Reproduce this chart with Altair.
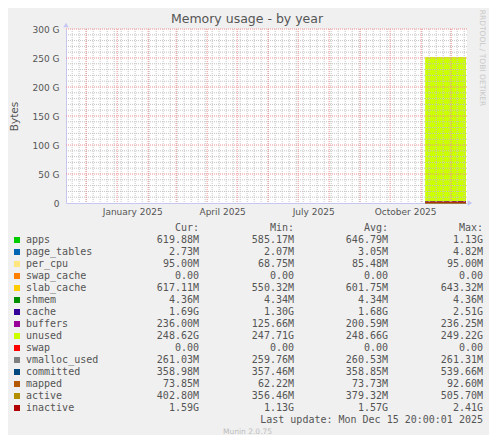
import altair as alt
import pandas as pd

# ---------------- text ----------------
TITLE = "Memory usage - by year"
Y_TITLE = "Bytes"
WATERMARK = "RRDTOOL / TOBI OETIKER"
LAST_UPDATE = "Last update: Mon Dec 15 20:00:01 2025"
FOOTER = "Munin 2.0.75"
HEADERS = ["Cur:", "Min:", "Avg:", "Max:"]

# ---------------- series ----------------
SERIES = ["apps", "page_tables", "per_cpu", "swap_cache", "slab_cache", "shmem",
          "cache", "buffers", "unused", "swap", "vmalloc_used", "committed",
          "mapped", "active", "inactive"]
COLORS = ["#00CC00", "#0066B3", "#FFE680", "#FF8000", "#FFCC00", "#008F00",
          "#330099", "#990099", "#CCFF00", "#FF0000", "#808080", "#00487D",
          "#B35A00", "#B38F00", "#B30000"]
STACKED = SERIES[:10]
LINES = SERIES[10:]

# legend statistics (as printed)
CUR = ["619.88M", "2.73M", "95.00M", "0.00", "617.11M", "4.36M", "1.69G", "236.00M",
       "248.62G", "0.00", "261.03M", "358.98M", "73.85M", "402.80M", "1.59G"]
MIN = ["585.17M", "2.07M", "68.75M", "0.00", "550.32M", "4.34M", "1.30G", "125.66M",
       "247.71G", "0.00", "259.76M", "357.46M", "62.22M", "356.46M", "1.13G"]
AVG = ["646.79M", "3.05M", "85.48M", "0.00", "601.75M", "4.34M", "1.68G", "200.59M",
       "248.66G", "0.00", "260.53M", "358.85M", "73.73M", "379.32M", "1.57G"]
MAX = ["1.13G", "4.82M", "95.00M", "0.00", "643.32M", "4.36M", "2.51G", "236.25M",
       "249.22G", "0.00", "261.31M", "539.66M", "92.60M", "505.70M", "2.41G"]

# time series (values in G): flat block from early Nov to Dec 15
DATES = ["2025-11-05T00:00:00", "2025-11-25T00:00:00", "2025-12-15T20:00:00"]
APPS = [0.64, 0.63, 0.62]
PAGE_TABLES = [0.003, 0.003, 0.0027]
PER_CPU = [0.085, 0.09, 0.095]
SWAP_CACHE = [0.0, 0.0, 0.0]
SLAB_CACHE = [0.60, 0.60, 0.62]
SHMEM = [0.0043, 0.0043, 0.0044]
CACHE = [1.68, 1.68, 1.69]
BUFFERS = [0.20, 0.21, 0.236]
UNUSED = [248.66, 248.70, 248.62]
SWAP = [0.0, 0.0, 0.0]
VMALLOC_USED = [0.26, 0.26, 0.26]
COMMITTED = [0.36, 0.36, 0.36]
MAPPED = [0.074, 0.074, 0.074]
ACTIVE = [0.38, 0.38, 0.40]
INACTIVE = [1.57, 1.57, 1.59]

VALUES = [APPS, PAGE_TABLES, PER_CPU, SWAP_CACHE, SLAB_CACHE, SHMEM, CACHE, BUFFERS,
          UNUSED, SWAP, VMALLOC_USED, COMMITTED, MAPPED, ACTIVE, INACTIVE]

# grid / axis
Y_TICKS = [0, 50, 100, 150, 200, 250, 300]
Y_MINOR = [v for v in range(10, 300, 10) if v % 50 != 0]
Y_MAJOR = [50, 100, 150, 200, 250, 300]
MONTH_STARTS = [d.strftime("%Y-%m-%dT00:00:00") for d in pd.date_range("2024-12-01", "2025-12-01", freq="MS")]
WEEKS = [d.strftime("%Y-%m-%dT00:00:00") for d in pd.date_range("2024-11-17", "2025-12-14", freq="7D")]
X_LABEL_DATES = [(2025, 1, 16), (2025, 4, 16), (2025, 7, 16), (2025, 10, 16)]

# ---------------- styling ----------------
TEXT = "#555555"
AXIS_COLOR = "#c6c6f2"
MINOR_COLOR = "#c4c4c4"
MAJOR_COLOR = "#f09090"
MONO = "DejaVu Sans Mono"
SANS = "DejaVu Sans"

# ---------------- data tables ----------------
rows = []
for i, (name, vals) in enumerate(zip(SERIES, VALUES)):
    for d, v in zip(DATES, vals):
        rows.append({"date": d, "series": name, "value": v, "ord": i})
ts = pd.DataFrame(rows)
ts_area = ts[ts.series.isin(STACKED)]
ts_line = ts[ts.series.isin(LINES)]


def pad(s):
    return s if s[-1].isalpha() else s + "\u00a0"


legend_df = pd.DataFrame({
    "series": SERIES,
    "row": list(range(1, len(SERIES) + 1)),
    "cur": [pad(s) for s in CUR],
    "min": [pad(s) for s in MIN],
    "avg": [pad(s) for s in AVG],
    "max": [pad(s) for s in MAX],
})

X_DOMAIN = [alt.DateTime(year=2024, month=11, date=10, hours=20),
            alt.DateTime(year=2025, month=12, date=16, hours=20)]


def xs():
    return alt.Scale(domain=X_DOMAIN)


def ys():
    return alt.Scale(domain=[0, 300], nice=False, zero=True)


color_scale = alt.Scale(domain=SERIES, range=COLORS)


def rs():
    return alt.Scale(domain=[0, 17], range=[199, 403], nice=False, zero=False)


x_axis = alt.Axis(values=[alt.DateTime(year=y, month=m, date=d) for y, m, d in X_LABEL_DATES],
                  format="%B %Y", title=None, grid=False, ticks=False, tickSize=0,
                  labelPadding=4, labelFont=SANS, labelFontSize=9, labelColor=TEXT,
                  domainColor=AXIS_COLOR, labelFlush=False, labelOverlap=False)
y_axis = alt.Axis(values=Y_TICKS,
                  labelExpr="datum.value == 0 ? '0  ' : datum.value + ' G'",
                  title=Y_TITLE, titleX=-52, titleY=87, titleAngle=-90,
                  titleAlign="center", titleBaseline="middle",
                  titleFont=SANS, titleFontSize=10.5, titleFontWeight="normal", titleColor=TEXT,
                  grid=False, ticks=False, tickSize=0, labelPadding=7,
                  labelFont=SANS, labelFontSize=9, labelColor=TEXT, domainColor=AXIS_COLOR)

area = alt.Chart(ts_area).mark_area(interpolate="linear", opacity=1).encode(
    x=alt.X("date:T", scale=xs(), axis=x_axis),
    y=alt.Y("value:Q", stack="zero", scale=ys(), axis=y_axis),
    color=alt.Color("series:N", scale=color_scale, legend=None),
    order=alt.Order("ord:Q", sort="ascending"),
)

lines = alt.Chart(ts_line).mark_line(strokeWidth=1).encode(
    x=alt.X("date:T", scale=xs(), axis=None),
    y=alt.Y("value:Q", scale=ys(), axis=None),
    color=alt.Color("series:N", scale=color_scale, legend=None),
)

hminor = alt.Chart(pd.DataFrame({"v": Y_MINOR})).mark_rule(
    color=MINOR_COLOR, strokeDash=[1, 1], strokeWidth=1).encode(
    y=alt.Y("v:Q", scale=ys(), axis=None))
vminor = alt.Chart(pd.DataFrame({"d": WEEKS})).mark_rule(
    color=MINOR_COLOR, strokeDash=[1, 1], strokeWidth=1).encode(
    x=alt.X("d:T", scale=xs(), axis=None))
hmajor = alt.Chart(pd.DataFrame({"v": Y_MAJOR})).mark_rule(
    color=MAJOR_COLOR, strokeDash=[1, 1], strokeWidth=1).encode(
    y=alt.Y("v:Q", scale=ys(), axis=None))
vmajor = alt.Chart(pd.DataFrame({"d": MONTH_STARTS})).mark_rule(
    color=MAJOR_COLOR, strokeDash=[1, 1], strokeWidth=1).encode(
    x=alt.X("d:T", scale=xs(), axis=None))

arrow_up = alt.Chart(pd.DataFrame({"d": ["2024-11-10T20:00:00"], "v": [307]})).mark_point(
    shape="triangle-up", filled=True, size=28, color=AXIS_COLOR, opacity=1).encode(
    x=alt.X("d:T", scale=xs(), axis=None), y=alt.Y("v:Q", scale=ys(), axis=None))
arrow_right = alt.Chart(pd.DataFrame({"d": ["2025-12-19T20:00:00"], "v": [0]})).mark_point(
    shape="triangle-right", filled=True, size=28, color=AXIS_COLOR, opacity=1).encode(
    x=alt.X("d:T", scale=xs(), axis=None), y=alt.Y("v:Q", scale=ys(), axis=None))

# ---------------- legend table ----------------
txt = dict(font=MONO, fontSize=10, color=TEXT, baseline="middle")


def ry():
    return alt.Y("row:Q", scale=rs(), axis=None)


swatches = alt.Chart(legend_df).mark_point(shape="square", filled=True, size=36, opacity=1).encode(
    x=alt.value(-49), y=ry(), color=alt.Color("series:N", scale=color_scale, legend=None))
names = alt.Chart(legend_df).mark_text(align="left", **txt).encode(
    x=alt.value(-40), y=ry(), text="series:N")
col_x = {"cur": 133, "min": 228, "avg": 322, "max": 417}
cols = [alt.Chart(legend_df).mark_text(align="right", **txt).encode(
    x=alt.value(px), y=ry(), text=f"{c}:N") for c, px in col_x.items()]

hdr_pad = ["\u00a0\u00a0", "\u00a0\u00a0", "\u00a0", ""]
hdr = [alt.Chart(pd.DataFrame({"t": [h + p], "row": [0]})).mark_text(align="right", **txt).encode(
    x=alt.value(px), y=ry(), text="t:N") for h, p, px in zip(HEADERS, hdr_pad, col_x.values())]

last = alt.Chart(pd.DataFrame({"t": [LAST_UPDATE], "row": [16]})).mark_text(align="right", **txt).encode(
    x=alt.value(417), y=ry(), text="t:N")
footer = alt.Chart(pd.DataFrame({"t": [FOOTER], "row": [17]})).mark_text(
    align="left", baseline="middle", font=SANS, fontSize=7.5, color="#bdbdbd").encode(
    x=alt.value(157), y=ry(), text="t:N")

title = alt.Chart(pd.DataFrame({"t": [TITLE]})).mark_text(
    align="center", baseline="alphabetic", font=SANS, fontSize=12.5, color=TEXT).encode(
    x=alt.value(181), y=alt.value(-6.5), text="t:N")
watermark = alt.Chart(pd.DataFrame({"t": [WATERMARK]})).mark_text(
    align="center", baseline="middle", angle=90, font=SANS, fontSize=7.5, color="#c8c8c8").encode(
    x=alt.value(416), y=alt.value(29), text="t:N")

chart = alt.layer(area, lines, hminor, vminor, hmajor, vmajor, arrow_up, arrow_right,
                  swatches, names, *cols, *hdr, last, footer, title, watermark).resolve_scale(
    x="independent", y="independent"
).properties(
    width=401, height=174,
    autosize=alt.AutoSizeParams(type="none"),
    padding={"left": 58, "top": 21, "right": 22, "bottom": 232},
    background="#F0F0F0",
).configure_view(fill="white", strokeWidth=0)

chart.save("out.html", embed_options={"renderer": "svg", "actions": False})
